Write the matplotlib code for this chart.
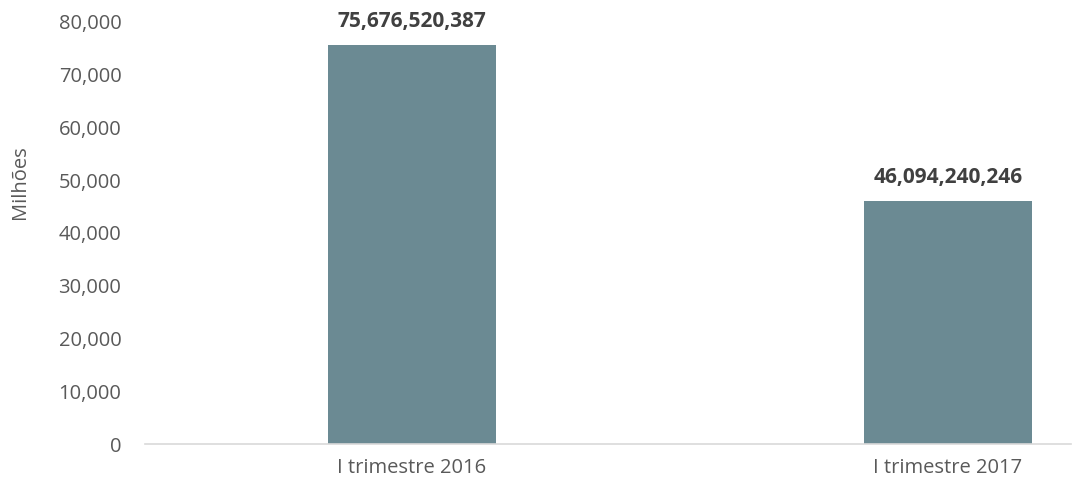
import matplotlib.pyplot as plt
from matplotlib.ticker import FuncFormatter

categories = ['I trimestre 2016', 'I trimestre 2017']
values = [75676520387, 46094240246]
millions = [v / 1e6 for v in values]

bar_color = '#6b8a93'
text_color = '#595959'

plt.rcParams['font.family'] = ['Open Sans', 'DejaVu Sans']

fig = plt.figure(figsize=(10.73, 4.86), dpi=100)
ax = fig.add_axes([145 / 1073, 42 / 486, (1071 - 145) / 1073, 422 / 486])

x = range(len(categories))
ax.bar(x, millions, width=0.313, color=bar_color)

for xi, v, m in zip(x, values, millions):
    ax.annotate(f'{v:,}', (xi, m), xytext=(0, 9), textcoords='offset points',
                ha='center', va='bottom', fontsize=15, fontweight='bold',
                color='#404040')

ax.set_xlim(-0.498, 1.23)
ax.set_ylim(0, 80000)
ax.set_yticks(range(0, 80001, 10000))
ax.yaxis.set_major_formatter(FuncFormatter(lambda v, p: f'{int(v):,}'))
ax.set_xticks(list(x))
ax.set_xticklabels(categories)

for side in ['top', 'right', 'left']:
    ax.spines[side].set_visible(False)
ax.spines['bottom'].set_color('#d9d9d9')
ax.spines['bottom'].set_linewidth(1.2)
ax.tick_params(axis='both', length=0, labelsize=14.5, colors=text_color)
ax.tick_params(axis='y', pad=17)
ax.tick_params(axis='x', pad=10)

ax.set_ylabel('Milhões', fontsize=14.5, color=text_color)
ax.yaxis.set_label_coords(-0.124, 0.62)

fig.savefig('out.png', dpi=100)
